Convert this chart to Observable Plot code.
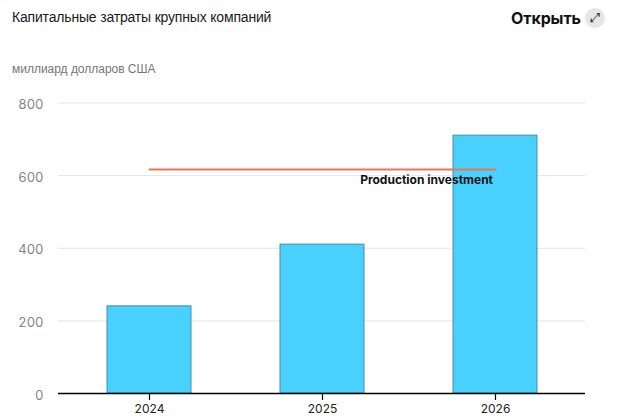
<!DOCTYPE html>
<html lang="ru">
<head>
<meta charset="utf-8">
<script src="https://cdn.jsdelivr.net/npm/d3@7"></script>
<script src="https://cdn.jsdelivr.net/npm/@observablehq/plot@0.6"></script>
<style>
html,body{margin:0;padding:0;background:#fff;width:624px;height:417px;overflow:hidden}
#head{position:relative;width:624px;height:85px;font-family:"Liberation Sans",Arial,sans-serif}
#title{position:absolute;left:12px;top:9px;font-size:14px;line-height:17px;color:#1a1a1a;letter-spacing:-.18px}
#unit{position:absolute;left:12px;top:62px;font-size:12px;line-height:15px;color:#767676;letter-spacing:-.02px}
#open{position:absolute;left:511px;top:8px;font:700 16px/20px Inter,sans-serif;color:#111;letter-spacing:-.1px}
#icon{position:absolute;left:585px;top:8px;width:20px;height:20px;border-radius:50%;background:#e6e6e6;text-align:center;font:13px/20px "DejaVu Sans",sans-serif;color:#222}
#chart svg{display:block}
#chart svg text{font-family:Inter,sans-serif !important}
</style>
</head>
<body>
<div id="head">
  <div id="title">Капитальные затраты крупных компаний</div>
  <div id="unit">миллиард долларов США</div>
  <div id="open">Открыть</div>
  <div id="icon">⤢</div>
</div>
<div id="chart"></div>
<script>
const years = ["2024", "2025", "2026"];
const capex = [240, 410, 710];
const lineYears = ["2024", "2026"];
const lineValues = [617, 617];
const yTicks = [0, 200, 400, 600, 800];
const lineLabel = "Production investment";

const bars = years.map((year, i) => ({year, value: capex[i]}));
const linePts = lineYears.map((year, i) => ({year, value: lineValues[i]}));

const plot = Plot.plot({
  width: 624,
  height: 332,
  marginTop: 17.5,
  marginBottom: 24,
  marginLeft: 58,
  marginRight: 39,
  style: {fontFamily: "Inter, sans-serif", background: "#fff", overflow: "visible"},
  x: {domain: years, paddingInner: 0.515, paddingOuter: 0.2805, label: null},
  y: {domain: [0, 800], label: null},
  marks: [
    Plot.ruleY(yTicks.filter(d => d > 0), {stroke: "#e4e4e4", strokeWidth: 1}),
    Plot.barY(bars, {x: "year", y: "value", fill: "#48d1ff", stroke: "#4a8ba3", strokeWidth: 1}),
    Plot.ruleY([0], {stroke: "#000", strokeWidth: 1.5}),
    Plot.line(linePts, {x: "year", y: "value", stroke: "#f2734e", strokeWidth: 2}),
    Plot.text([linePts[1]], {x: "year", y: "value", text: () => lineLabel, textAnchor: "end", dx: -2.5, dy: 11, fontSize: 12, fontWeight: 700, fill: "#111"}),
    Plot.axisX({tickSize: 7, tickPadding: 3.5, fontSize: 12, stroke: "#000", strokeWidth: 1.2, fill: "#222"}),
    Plot.axisY({ticks: yTicks, tickSize: 0, tickPadding: 15, fontSize: 13, fill: "#858585", dy: 2})
  ]
});
document.getElementById("chart").appendChild(plot);
</script>
</body>
</html>
